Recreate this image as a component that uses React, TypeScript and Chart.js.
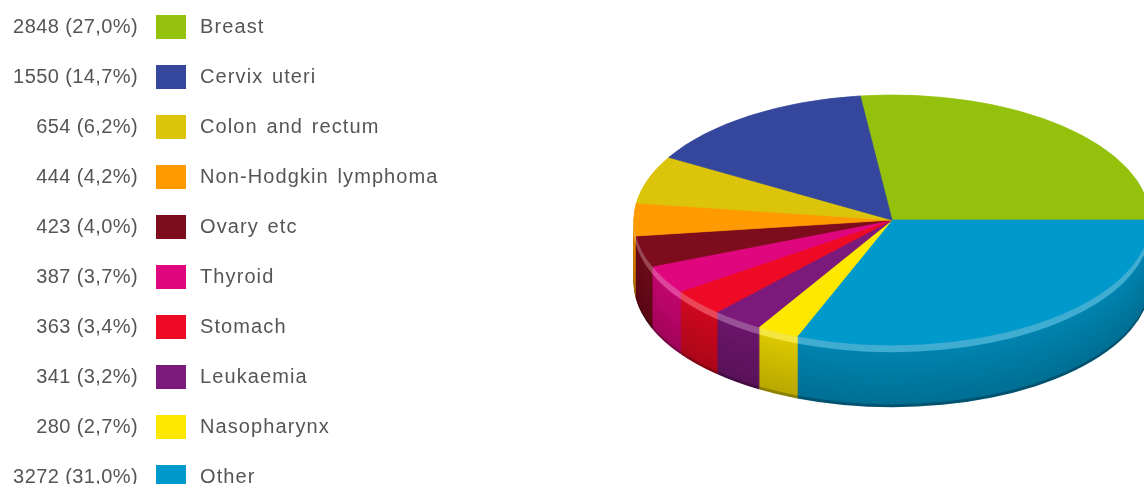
import { useEffect, useRef } from "react";
import { Chart, registerables } from "chart.js";

Chart.register(...registerables);

// Cancer sites, in legend order
const categories = [
  "Breast",
  "Cervix uteri",
  "Colon and rectum",
  "Non-Hodgkin lymphoma",
  "Ovary etc",
  "Thyroid",
  "Stomach",
  "Leukaemia",
  "Nasopharynx",
  "Other",
];

// Number of cases per site
const cases = [2848, 1550, 654, 444, 423, 387, 363, 341, 280, 3272];

// Slice / swatch colours, same order as categories
const sliceColors = [
  "#94c10c",
  "#34479c",
  "#dcc40a",
  "#ff9a00",
  "#7d0c1c",
  "#e0077e",
  "#ee0a24",
  "#7c1a7c",
  "#ffe800",
  "#0099cc",
];

// Clockwise order of the slices around the pie, starting with Breast
const pieOrder = [0, 9, 8, 7, 6, 5, 4, 3, 2, 1];

const total = cases.reduce((s, v) => s + v, 0);
const pctLabel = (v: number) => (v / total * 100).toFixed(1).replace(".", ",");

const RADIUS_X = 258;
const RADIUS_Y = 125;
const TILT = RADIUS_Y / RADIUS_X;
const DEPTH = 62;

function hexToRgb(hex: string): [number, number, number] {
  const n = parseInt(hex.slice(1), 16);
  return [(n >> 16) & 255, (n >> 8) & 255, n & 255];
}

// Colour of the pie's side wall at a given depth below the top face
function sideShade(hex: string, d: number): string {
  const [r, g, b] = hexToRgb(hex);
  const t = d / DEPTH;
  let f: number;
  let w = 0;
  if (t < 0.12) {
    f = 0.95;
    w = 0.25;
  } else if (t > 0.96) {
    f = 0.55;
  } else {
    f = 0.86 - (t - 0.12) * 0.16;
  }
  const mix = (c: number) => Math.round(Math.min(255, c * f * (1 - w) + 255 * w));
  return `rgb(${mix(r)},${mix(g)},${mix(b)})`;
}

// Squashes the pie into an ellipse and draws its side wall underneath
const pie3d = {
  id: "pie3d",
  beforeDatasetsDraw(chart: any) {
    const ctx = chart.ctx as CanvasRenderingContext2D;
    const arcs = chart.getDatasetMeta(0).data;
    if (!arcs.length) return;
    const { x, y } = arcs[0];
    ctx.save();
    ctx.translate(x, y);
    ctx.scale(1, TILT);
    ctx.translate(-x, -y);
    const colors = chart.data.datasets[0].backgroundColor as string[];
    for (let d = DEPTH; d >= 1; d--) {
      const oy = y + d / TILT;
      arcs.forEach((arc: any, i: number) => {
        const p = arc.getProps(["startAngle", "endAngle", "outerRadius"], true);
        ctx.beginPath();
        ctx.moveTo(x, oy);
        ctx.arc(x, oy, p.outerRadius + 0.5, p.startAngle, p.endAngle);
        ctx.closePath();
        ctx.fillStyle = sideShade(colors[i], d);
        ctx.fill();
      });
    }
  },
  afterDatasetsDraw(chart: any) {
    chart.ctx.restore();
  },
};

function PieChart() {
  const canvasRef = useRef<HTMLCanvasElement | null>(null);

  useEffect(() => {
    if (!canvasRef.current) return;
    const bg = pieOrder.map((i) => sliceColors[i]);
    const chart = new Chart(canvasRef.current, {
      type: "pie",
      data: {
        labels: pieOrder.map((i) => categories[i]),
        datasets: [
          {
            data: pieOrder.map((i) => cases[i]),
            backgroundColor: bg,
            borderColor: bg,
            borderWidth: 1,
            radius: RADIUS_X,
            clip: false,
          } as any,
        ],
      },
      options: {
        responsive: false,
        animation: false,
        events: [],
        rotation: 90 - (cases[0] / total) * 360,
        layout: { padding: { left: 640, right: 0, top: 0, bottom: 44 } },
        plugins: {
          legend: { display: false },
          tooltip: { enabled: false },
        },
      },
      plugins: [pie3d],
    });
    return () => chart.destroy();
  }, []);

  return (
    <canvas
      ref={canvasRef}
      width={1144}
      height={484}
      style={{ position: "absolute", left: 0, top: 0, width: 1144, height: 484 }}
    />
  );
}

const textStyle: React.CSSProperties = {
  position: "absolute",
  height: 24,
  lineHeight: "24px",
  fontFamily: "'Liberation Sans', Arial, sans-serif",
  fontSize: 20,
  color: "#555",
  whiteSpace: "nowrap",
};

function Legend() {
  return (
    <>
      {categories.map((name, i) => {
        const top = 14 + i * 50;
        return (
          <div key={name}>
            <div
              style={{
                ...textStyle,
                top,
                left: 0,
                width: 138,
                textAlign: "right",
                letterSpacing: 0.4,
              }}
            >
              {`${cases[i]} (${pctLabel(cases[i])}%)`}
            </div>
            <div
              style={{
                position: "absolute",
                top: top + 1,
                left: 156,
                width: 30,
                height: 24,
                background: sliceColors[i],
              }}
            />
            <div style={{ ...textStyle, top, left: 200, letterSpacing: 1.1, wordSpacing: 2 }}>
              {name}
            </div>
          </div>
        );
      })}
    </>
  );
}

export default function App() {
  return (
    <div
      style={{
        position: "fixed",
        left: 0,
        top: 0,
        width: 1144,
        height: 484,
        overflow: "hidden",
        background: "#fff",
      }}
    >
      <PieChart />
      <Legend />
    </div>
  );
}
